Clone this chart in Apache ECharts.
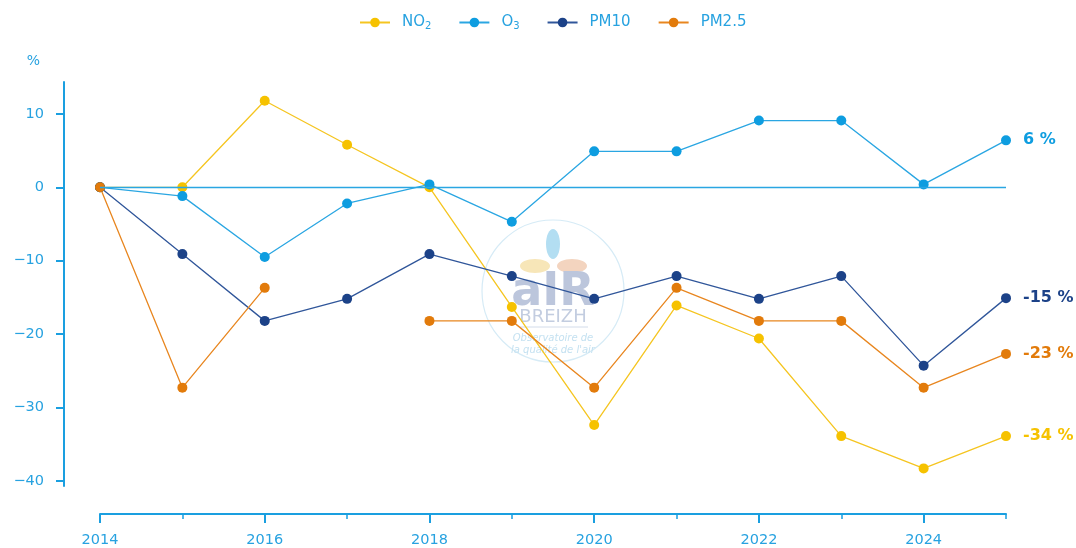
<!DOCTYPE html>
<html><head><meta charset="utf-8">
<script src="https://cdn.jsdelivr.net/npm/echarts@6/dist/echarts.min.js"></script>
<style>html,body{margin:0;padding:0;background:#fff}#c{width:1076px;height:548px}</style>
</head><body><div id="c"></div>
<script>
const years = [2014,2015,2016,2017,2018,2019,2020,2021,2022,2023,2024,2025];
const yearLabels = [2014,2016,2018,2020,2022,2024];
const yTicks = [-40,-30,-20,-10,0,10];
const no2  = [0, 0, 11.8, 5.8, 0, -16.3, -32.4, -16.1, -20.6, -33.9, -38.3, -33.9];
const o3   = [0, -1.2, -9.5, -2.2, 0.4, -4.7, 4.9, 4.9, 9.1, 9.1, 0.4, 6.4];
const pm10 = [0, -9.1, -18.2, -15.2, -9.1, -12.1, -15.2, -12.1, -15.2, -12.1, -24.3, -15.1];
const pm25 = [0, -27.3, -13.7, null, -18.2, -18.2, -27.3, -13.7, -18.2, -18.2, -27.3, -22.7];
const names = ['NO2','O3','PM10','PM2.5'];
const colors = ['#f6c200','#0e9de0','#1c4288','#e27b0b'];
const lineColors = ['#f5c520','#2aa6e2','#30569a','#e8861f'];

const axisColor = '#1a9fe0';
const textColor = '#27a2e0';
const font = 'DejaVu Sans';

function pairs(v){ return years.map((y,i)=>[y, v[i]===null ? '-' : v[i]]); }

function mk(idx, vals, extra){
  const color = colors[idx];
  return Object.assign({
    name: names[idx], type:'line', data: pairs(vals), symbol:'circle', symbolSize:10,
    connectNulls:false,
    lineStyle:{color: lineColors[idx], width:1.3}, itemStyle:{color},
    endLabel:{show:true, distance:17, color, fontFamily:font, fontWeight:'bold', fontSize:16,
      formatter: p => Math.round(p.value[1]) + ' %'},
    emphasis:{disabled:true}
  }, extra||{});
}

const chart = echarts.init(document.getElementById('c'), null, {renderer:'canvas'});
chart.setOption({
  animation:false,
  legend:{
    top:10, left:354, itemWidth:30, itemHeight:12, itemGap:27,
    textStyle:{color:textColor, fontFamily:font, fontSize:15, padding:[0,0,0,7],
      rich:{sub:{fontSize:10, verticalAlign:'bottom', color:textColor, fontFamily:font, padding:[7,0,0,0]}}},
    formatter: n => n==='NO2' ? 'NO{sub|2}' : (n==='O3' ? 'O{sub|3}' : n),
    data: names
  },
  grid:{left:100, width:906, top:82, height:407, containLabel:false},
  xAxis:[{
    type:'value', min:2014, max:2025, offset:28, position:'bottom',
    axisLine:{show:true, onZero:false, lineStyle:{color:axisColor, width:2}},
    axisTick:{show:true, length:5, customValues:years, lineStyle:{color:axisColor, width:1.5}},
    axisLabel:{customValues:yearLabels, color:textColor, fontFamily:font, fontSize:14.5, margin:19,
      formatter: v => String(v)},
    splitLine:{show:false}
  },{
    type:'value', min:2014, max:2025, offset:28, position:'bottom',
    axisLine:{show:false, onZero:false},
    axisTick:{show:true, length:9, customValues:yearLabels, lineStyle:{color:axisColor, width:2}},
    axisLabel:{show:false},
    splitLine:{show:false}
  }],
  yAxis:{
    type:'value', min:-40.7, max:14.35, offset:36,
    name:'%', nameLocation:'end', nameGap:14,
    nameTextStyle:{color:textColor, fontFamily:font, fontSize:14, align:'right', padding:[0,24,0,0]},
    axisLine:{show:true, onZero:false, lineStyle:{color:axisColor, width:2}},
    axisTick:{show:true, length:8, customValues:yTicks, lineStyle:{color:axisColor, width:2}},
    axisLabel:{customValues:yTicks, color:textColor, fontFamily:font, fontSize:14.5, margin:20,
      formatter: v => v < 0 ? '\u2212' + Math.abs(v) : String(v)},
    splitLine:{show:false}
  },
  graphic:[
    {type:'circle', silent:true, z:-10, shape:{cx:553, cy:291, r:71}, style:{fill:'none', stroke:'#d6ebf6', lineWidth:1.2}},
    {type:'ellipse', silent:true, z:-10, shape:{cx:553, cy:244, rx:7, ry:15}, style:{fill:'#b3def2'}},
    {type:'ellipse', silent:true, z:-10, shape:{cx:535, cy:266, rx:15, ry:7}, style:{fill:'#f7e6b8'}},
    {type:'ellipse', silent:true, z:-10, shape:{cx:572, cy:266, rx:15, ry:7}, style:{fill:'#f3d4bf'}},
    {type:'text', silent:true, z:-10, style:{x:553, y:293, text:'aIR', align:'center', verticalAlign:'middle', font:'bold 46px "DejaVu Sans"', fill:'#bcc6dc'}},
    {type:'text', silent:true, z:-10, style:{x:553, y:317, text:'BREIZH', align:'center', verticalAlign:'middle', font:'18px "DejaVu Sans"', fill:'#c3cde0'}},
    {type:'line', silent:true, z:-10, shape:{x1:520, y1:327, x2:588, y2:327}, style:{stroke:'#d3dcea', lineWidth:1}},
    {type:'text', silent:true, z:-10, style:{x:553, y:338, text:'Observatoire de', align:'center', verticalAlign:'middle', font:'italic 10px "DejaVu Sans"', fill:'#c4e1f1'}},
    {type:'text', silent:true, z:-10, style:{x:553, y:350, text:"la qualité de l'air", align:'center', verticalAlign:'middle', font:'italic 10px "DejaVu Sans"', fill:'#c4e1f1'}}
  ],
  series:[
    mk(0, no2),
    mk(1, o3, {markLine:{silent:true, symbol:'none', label:{show:false},
      lineStyle:{color:lineColors[1], width:1.3, type:'solid'}, data:[{yAxis:0}]}}),
    mk(2, pm10),
    mk(3, pm25)
  ]
});
</script></body></html>
